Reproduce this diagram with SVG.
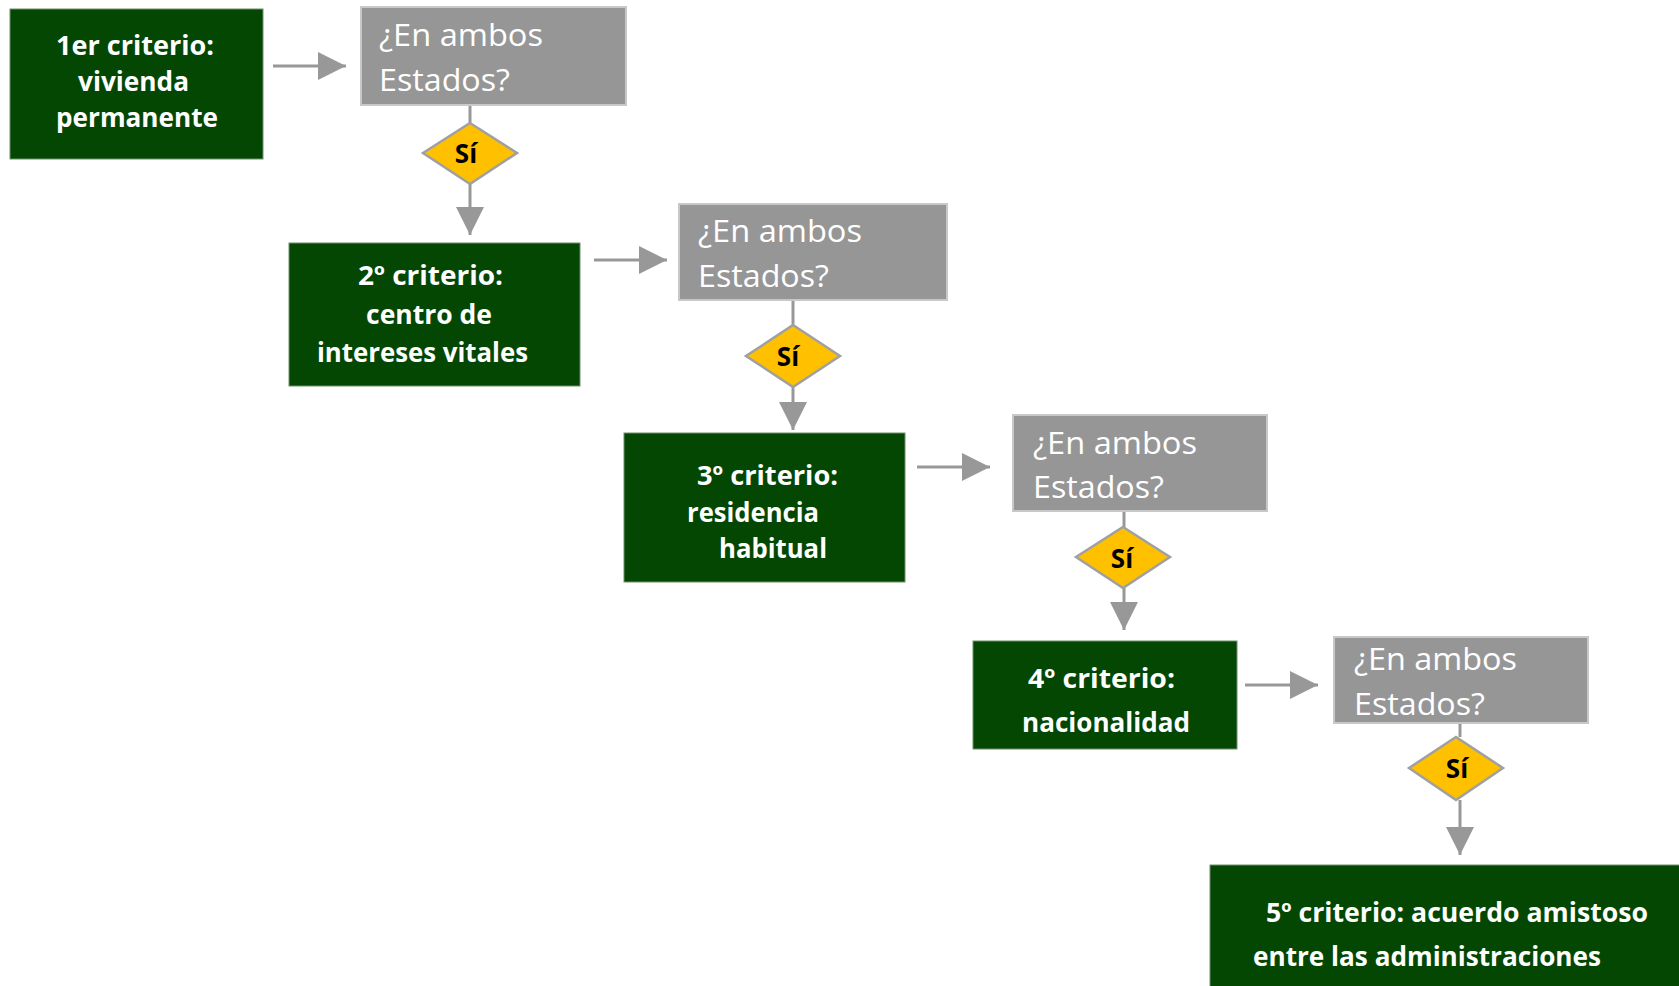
<svg xmlns="http://www.w3.org/2000/svg" width="1679" height="986" viewBox="0 0 1679 986">
<defs>
<style>
.crit{fill:#034703;stroke:#6f8f6f;stroke-width:1}
.q{fill:#969696;stroke:#c8c8c8;stroke-width:2}
.dia{fill:#FFC000;stroke:#a0a0a0;stroke-width:2.5}
.ct{font-family:"Open Sans","Liberation Sans",sans-serif;font-weight:bold;font-size:26px;fill:#ffffff}
.qt{font-family:"Open Sans","Liberation Sans",sans-serif;font-size:31px;fill:#ffffff}
.si{font-family:"Open Sans","Liberation Sans",sans-serif;font-weight:bold;font-size:26px;fill:#000000;text-anchor:middle}
.con{stroke:#989898;stroke-width:3;fill:none}
</style>
<marker id="ah" markerUnits="userSpaceOnUse" markerWidth="28" markerHeight="28" viewBox="0 0 28 28" refX="28" refY="14" orient="auto">
<path d="M0,0 L28,14 L0,28 z" fill="#989898"/>
</marker>
</defs>
<rect width="1679" height="986" fill="#ffffff"/>

<g id="connectors">
<line class="con" x1="273" y1="66" x2="346" y2="66" marker-end="url(#ah)"/>
<line class="con" x1="470" y1="105" x2="470" y2="123"/>
<line class="con" x1="470" y1="184" x2="470" y2="235" marker-end="url(#ah)"/>
<line class="con" x1="594" y1="260" x2="667" y2="260" marker-end="url(#ah)"/>
<line class="con" x1="793" y1="300" x2="793" y2="325"/>
<line class="con" x1="793" y1="387" x2="793" y2="430" marker-end="url(#ah)"/>
<line class="con" x1="917" y1="467" x2="990" y2="467" marker-end="url(#ah)"/>
<line class="con" x1="1124" y1="512" x2="1124" y2="527"/>
<line class="con" x1="1124" y1="588" x2="1124" y2="630" marker-end="url(#ah)"/>
<line class="con" x1="1245" y1="685" x2="1318" y2="685" marker-end="url(#ah)"/>
<line class="con" x1="1460" y1="723" x2="1460" y2="737"/>
<line class="con" x1="1460" y1="800" x2="1460" y2="855" marker-end="url(#ah)"/>
</g>

<g id="crit1">
<rect class="crit" x="10" y="9" width="253" height="150"/>
<text class="ct" x="56" y="55" textLength="158" lengthAdjust="spacingAndGlyphs">1er criterio:</text>
<text class="ct" x="78" y="91" textLength="111" lengthAdjust="spacingAndGlyphs">vivienda</text>
<text class="ct" x="56" y="127" textLength="162" lengthAdjust="spacingAndGlyphs">permanente</text>
</g>
<g id="q1">
<rect class="q" x="361" y="7" width="265" height="98"/>
<text class="qt" x="379" y="46" textLength="164" lengthAdjust="spacingAndGlyphs">¿En ambos</text>
<text class="qt" x="379" y="91" textLength="131" lengthAdjust="spacingAndGlyphs">Estados?</text>
</g>
<g id="si1">
<polygon class="dia" points="470,123 517,153 470,184 423,153"/>
<text class="si" x="466" y="163">Sí</text>
</g>

<g id="crit2">
<rect class="crit" x="289" y="243" width="291" height="143"/>
<text class="ct" x="358" y="285" textLength="145" lengthAdjust="spacingAndGlyphs">2º criterio:</text>
<text class="ct" x="366" y="324" textLength="126" lengthAdjust="spacingAndGlyphs">centro de</text>
<text class="ct" x="317" y="362" textLength="211" lengthAdjust="spacingAndGlyphs">intereses vitales</text>
</g>
<g id="q2">
<rect class="q" x="679" y="204" width="268" height="96"/>
<text class="qt" x="698" y="242" textLength="164" lengthAdjust="spacingAndGlyphs">¿En ambos</text>
<text class="qt" x="698" y="287" textLength="131" lengthAdjust="spacingAndGlyphs">Estados?</text>
</g>
<g id="si2">
<polygon class="dia" points="793,325 840,356 793,387 746,356"/>
<text class="si" x="788" y="366">Sí</text>
</g>

<g id="crit3">
<rect class="crit" x="624" y="433" width="281" height="149"/>
<text class="ct" x="697" y="485" textLength="141" lengthAdjust="spacingAndGlyphs">3º criterio:</text>
<text class="ct" x="687" y="522" textLength="132" lengthAdjust="spacingAndGlyphs">residencia</text>
<text class="ct" x="719" y="558" textLength="108" lengthAdjust="spacingAndGlyphs">habitual</text>
</g>
<g id="q3">
<rect class="q" x="1013" y="415" width="254" height="96"/>
<text class="qt" x="1033" y="454" textLength="164" lengthAdjust="spacingAndGlyphs">¿En ambos</text>
<text class="qt" x="1033" y="498" textLength="131" lengthAdjust="spacingAndGlyphs">Estados?</text>
</g>
<g id="si3">
<polygon class="dia" points="1123,527 1170,557 1123,588 1076,557"/>
<text class="si" x="1122" y="568">Sí</text>
</g>

<g id="crit4">
<rect class="crit" x="973" y="641" width="264" height="108"/>
<text class="ct" x="1028" y="688" textLength="147" lengthAdjust="spacingAndGlyphs">4º criterio:</text>
<text class="ct" x="1022" y="732" textLength="168" lengthAdjust="spacingAndGlyphs">nacionalidad</text>
</g>
<g id="q4">
<rect class="q" x="1334" y="637" width="254" height="86"/>
<text class="qt" x="1354" y="670" textLength="163" lengthAdjust="spacingAndGlyphs">¿En ambos</text>
<text class="qt" x="1354" y="715" textLength="131" lengthAdjust="spacingAndGlyphs">Estados?</text>
</g>
<g id="si4">
<polygon class="dia" points="1456,737 1503,768 1456,800 1409,768"/>
<text class="si" x="1457" y="778">Sí</text>
</g>

<g id="crit5">
<rect class="crit" x="1210" y="865" width="475" height="130"/>
<text class="ct" x="1266" y="922" textLength="382" lengthAdjust="spacingAndGlyphs">5º criterio: acuerdo amistoso</text>
<text class="ct" x="1253" y="966" textLength="348" lengthAdjust="spacingAndGlyphs">entre las administraciones</text>
</g>
</svg>
